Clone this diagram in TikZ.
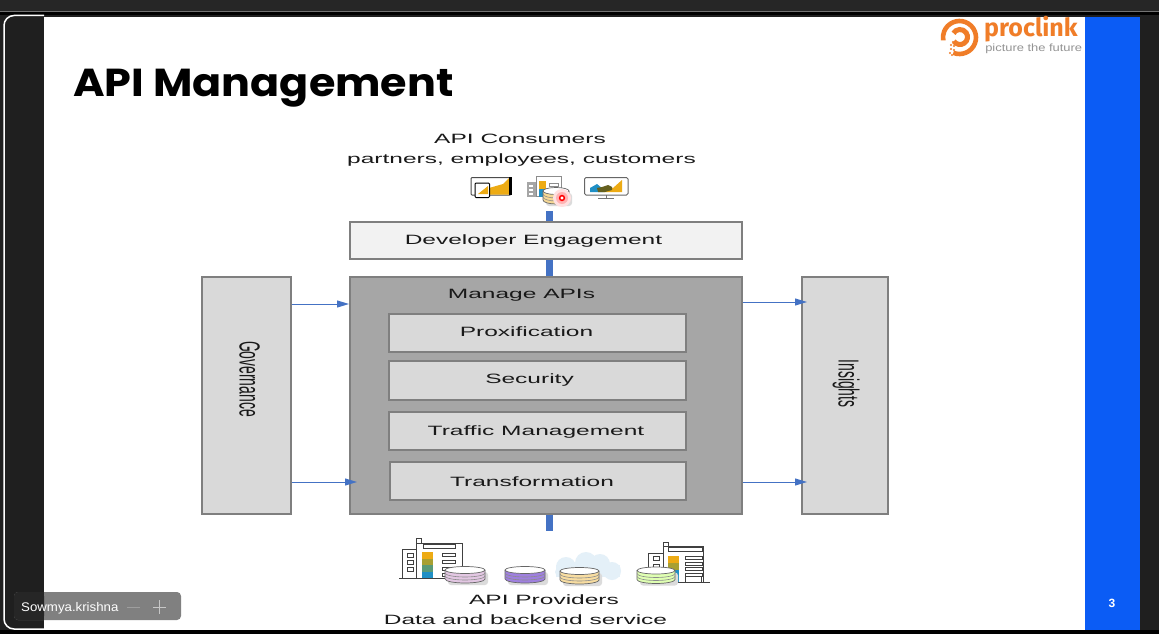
\documentclass[tikz,border=0pt]{standalone}
\usepackage{fontspec}
\setmainfont{Liberation Sans}
\newfontfamily\titlefont{Poppins}
\newfontfamily\logofont{Fira Sans}
\usetikzlibrary{arrows.meta}
\definecolor{darkbg}{HTML}{1F1F1F}
\definecolor{slideblue}{HTML}{0B5CF5}
\definecolor{linkblue}{HTML}{4472C4}
\definecolor{boxline}{HTML}{7F7F7F}
\definecolor{boxfill}{HTML}{D9D9D9}
\definecolor{manage}{HTML}{A6A6A6}
\definecolor{logoorange}{HTML}{F07D28}
\definecolor{gold}{HTML}{EDAB14}
\definecolor{teal}{HTML}{1F8FC5}
\definecolor{olivey}{HTML}{A8A032}
\definecolor{greeny}{HTML}{5A9A78}
\definecolor{cloudy}{HTML}{E4F0F8}
\tikzset{
  x=1pt,y=-1pt,
  pbox/.style={draw=boxline,line width=1.5pt,fill=boxfill,inner sep=0pt,anchor=north west},
  lbl/.style={font=\fontsize{13.5}{16}\selectfont,text=black!90,xscale=1.815,inner sep=0pt},
  vlbl/.style={font=\fontsize{29}{31}\selectfont,text=black!90,rotate=-90,xscale=.48,inner sep=0pt},
  thick link/.style={draw=linkblue,line width=7pt},
  thin link/.style={draw=linkblue,line width=1pt,-{Triangle[length=12pt,width=7pt]}},
  bldg/.style={draw=black!75,line width=1pt,fill=white},
  win/.style={draw=black!75,line width=.8pt},
}
% database cylinder: [half width], centre x, centre y of the top, fill
\newcommand{\dbstack}[4][20]{%
  \fill[black!14,rounded corners=3pt] (#2-#1+3,#3+2) rectangle (#2+#1+3,#3+15);
  \draw[black!60,fill=#4,line width=.7pt] (#2-#1,#3) -- (#2-#1,#3+9) arc[start angle=180,end angle=360,x radius=#1,y radius=-4] -- (#2+#1,#3);
  \draw[black!45,line width=.6pt] (#2-#1,#3+3) arc[start angle=180,end angle=360,x radius=#1,y radius=-4];
  \draw[black!45,line width=.6pt] (#2-#1,#3+6) arc[start angle=180,end angle=360,x radius=#1,y radius=-4];
  \draw[black!60,fill=white,line width=.7pt] (#2,#3) ellipse[x radius=#1,y radius=3.5];
}
\begin{document}
\begin{tikzpicture}
\useasboundingbox (0,0) rectangle (1159,634);
% screen frame
\fill[darkbg] (0,0) rectangle (1159,634);
\fill[black!85!white] (0,0) rectangle (1159,11);
\fill[black!55] (0,11) rectangle (1159,12.5);
\fill[black] (0,12.5) rectangle (1159,15);
\fill[black] (0,630) rectangle (1159,634);
\draw[white,line width=1.5pt] (44,15.5) -- (14,15.5) arc[start angle=-90,end angle=-180,radius=10] -- (4,619) arc[start angle=180,end angle=90,radius=10] -- (44,629);
\fill[white] (44,17) rectangle (1085,630);
\fill[slideblue] (1085,17) rectangle (1140,630);
\node[text=white,font=\bfseries\fontsize{12}{14}\selectfont,inner sep=0pt] (pagenum) at (1112,603) {3};
% title
\node[anchor=west,inner sep=0pt,font=\titlefont\bfseries\fontsize{39}{42}\selectfont,xscale=1.1,text=black] (title) at (73,88) {API Management};
% logo
\draw[logoorange,line width=4.6pt] ([shift={(-248:16.5)}]959.5,37.5) arc[start angle=-248,end angle=-550,radius=16.5];
\draw[logoorange,line width=5pt] ([shift={(-215:7.5)}]960,37) arc[start angle=-215,end angle=-510,radius=7.5];
\foreach \p in {{953,42},{951,45},{954,46},{951,49},{954,50},{950,53},{952,55}}{\fill[logoorange] (\p) circle[radius=1.2];}
\node[anchor=west,inner sep=0pt,text=logoorange,font=\logofont\bfseries\fontsize{25}{27}\selectfont] (logoname) at (984,29) {proclink};
\node[anchor=west,inner sep=0pt,text=black!42,font=\fontsize{10.5}{12}\selectfont,xscale=1.23] (logotag) at (985,48.5) {picture the future};
% consumers text
\node[lbl] (consumers) at (520,138.5) {API Consumers};
\node[lbl] (partners) at (521.5,160.5) {partners, employees, customers};
% consumer icons
\draw[black!70,line width=1pt,fill=white,rounded corners=1pt] (471,177.5) rectangle (511,195);
\fill[gold] (489,188) -- (503,184) -- (509,178) -- (509,194.5) -- (489,194.5) -- cycle;
\fill[black] (509,177) rectangle (511.5,195);
\draw[black,line width=1pt,fill=white,rounded corners=1pt] (475,183) rectangle (489.5,197.5);
\fill[gold] (478,194) -- (488,186) -- (488,194) -- cycle;
\fill[black!35] (527,182) rectangle (537,197);
\draw[black!45,line width=1pt,fill=white] (536,176) rectangle (561,196);
\foreach \y in {183,188}{\draw[black!45,line width=.8pt] (549,\y) rectangle (558,\y+3);}
\foreach \y in {185,189,193}{\fill[white] (529,\y) rectangle (533,\y+2);}
\fill[gold] (539,181) rectangle (546,189);
\fill[teal] (539,189) rectangle (546,197);
\dbstack[13]{556}{191}{gold!45}
\draw[black!60,line width=1pt,fill=white,rounded corners=1.5pt] (584.5,177.5) rectangle (628,195);
\fill[teal] (590,192) -- (590,188) -- (597,184) -- (603,189) -- (603,192) -- cycle;
\fill[gold] (603,192) -- (603,189) -- (608,187) -- (613,188) -- (622,180) -- (622,192) -- cycle;
\fill[olivey!60!black] (597,188) -- (602,187) -- (608,185) -- (612,187) -- (612,190) -- (605,192) -- (598,192) -- cycle;
\draw[black!55,line width=1pt] (606,195) -- (606,198) (598,198.5) -- (614,198.5);
% red pointer
\fill[red!12] (562,198) circle[radius=9];
\fill[red!30] (562,198) circle[radius=6];
\draw[red,line width=1.5pt,fill=white] (562,198) circle[radius=2.4];
% boxes
\node[pbox,fill=black!5,minimum width=392pt,minimum height=37pt] (dev) at (349,221) {};
\node[lbl] (devtxt) at (533.5,241) {Developer Engagement};
\node[pbox,fill=manage,minimum width=392pt,minimum height=237pt] (manage) at (349,276) {};
\node[lbl] (managetxt) at (521.5,295) {Manage APIs};
\node[pbox,minimum width=297pt,minimum height=38pt] (prox) at (388,313) {};
\node[lbl] (proxtxt) at (526.5,332) {Proxification};
\node[pbox,minimum width=297pt,minimum height=39pt] (sec) at (388,360) {};
\node[lbl] (sectxt) at (529.5,380) {Security};
\node[pbox,minimum width=297pt,minimum height=38pt] (traffic) at (388,411) {};
\node[lbl] (traffictxt) at (536,432) {Traffic Management};
\node[pbox,minimum width=296pt,minimum height=38pt] (trans) at (389,461) {};
\node[lbl] (transtxt) at (532,482) {Transformation};
\node[pbox,minimum width=89pt,minimum height=237pt] (gov) at (201,276) {};
\node[vlbl] (govtxt) at (249.5,379) {Governance};
\node[pbox,minimum width=86pt,minimum height=237pt] (ins) at (801,276) {};
\node[vlbl] (instxt) at (846,383.5) {Insights};
% free ends
\coordinate (topstub) at (549,211);
\coordinate (botstub) at (549,531);
\coordinate (g1) at (gov.east |- 0,304);
\coordinate (g2) at (gov.east |- 0,482);
\coordinate (m1) at (manage.west |- 0,304);
\coordinate (m2) at (357,482);
\coordinate (m3) at (manage.east |- 0,302);
\coordinate (m4) at (manage.east |- 0,482);
\coordinate (i1) at (807,302);
\coordinate (i2) at (807,482);
% connectors
\draw[thick link] (topstub) -- (topstub |- dev.north);
\draw[thick link] (dev.south -| topstub) -- (manage.north -| topstub);
\draw[thick link] (manage.south -| botstub) -- (botstub);
\draw[thin link] (g1) -- (m1);
\draw[thin link] (g2) -- (m2);
\draw[thin link] (m3) -- (i1);
\draw[thin link] (m4) -- (i2);
% cloud
\fill[cloudy] (566,567) circle[radius=10] (586,563) circle[radius=11] (600,564) circle[radius=10] (612,571) circle[radius=9] (560,572) circle[radius=5];
\fill[cloudy] (556,565) rectangle (620,577);
% provider left building
\draw[bldg] (402,549) rectangle (416,578);
\draw[bldg] (416,543) rectangle (462,578);
\draw[bldg] (416,538) rectangle (421,543);
\draw[win] (423,544) rectangle (455,548);
\foreach \y in {553,560,567,573}{\draw[win] (442,\y) rectangle (455,\y+3);}
\foreach \y in {553,560,567}{\draw[win] (407,\y) rectangle (413,\y+4);}
\fill[gold] (422,552) rectangle (433,559);
\fill[olivey] (422,559) rectangle (433,565);
\fill[greeny] (422,565) rectangle (433,572);
\fill[teal] (422,572) rectangle (433,578);
\draw[black!75,line width=1pt] (399,578) -- (447,578);
\dbstack{465}{570}{violet!22}
\dbstack{525}{570}{blue!50!violet!50}
\dbstack[19.5]{579.5}{571}{gold!40}
% provider right building
\draw[bldg] (648,553) rectangle (663,582);
\draw[bldg] (663,546) rectangle (703,582);
\draw[bldg] (663,542) rectangle (668,546);
\draw[win] (668,547) rectangle (702,551);
\foreach \y in {556,562,567,573}{\draw[win] (685,\y) rectangle (702,\y+3);}
\foreach \y in {556,564}{\draw[win] (653,\y) rectangle (659,\y+4);}
\draw[win] (685,582) -- (685,576) -- (701,576) -- (701,582);
\fill[gold] (668,556) rectangle (679,563);
\fill[olivey] (668,563) rectangle (679,570);
\fill[teal] (668,570) rectangle (679,582);
\draw[black!75,line width=1pt] (647,582) -- (710,582);
\dbstack[19]{656}{570.5}{green!22!lime!30}
% provider text
\node[lbl] (providers) at (544,600) {API Providers};
\node[lbl] (backend) at (525.5,619.5) {Data and backend service};
% presenter tag
\fill[black!50,rounded corners=4pt] (14,592) rectangle (181,620);
\fill[black!85,rounded corners=4pt] (14,592) rectangle (44,620);
\fill[black!85] (38,592) rectangle (44,620);
\node[anchor=west,inner sep=0pt,text=white,font=\fontsize{12.5}{14}\selectfont,xscale=1.06] (presenter) at (21,608) {Sowmya.krishna};
\draw[black!38,line width=1pt] (127,607) -- (140,607);
\draw[black!22,line width=1pt] (153,607) -- (166,607) (159.5,600) -- (159.5,614);
\end{tikzpicture}
\end{document}
